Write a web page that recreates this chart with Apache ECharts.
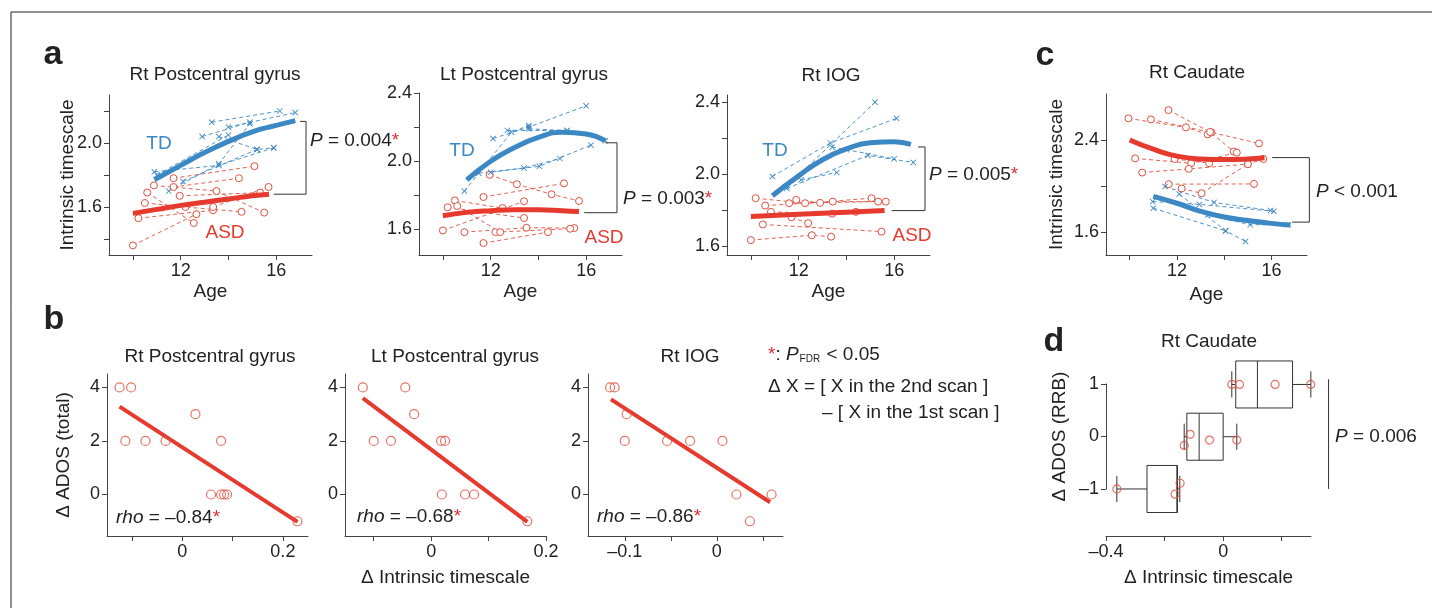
<!DOCTYPE html>
<html>
<head>
<meta charset="utf-8">
<title>Intrinsic timescale</title>
<script src="https://cdn.jsdelivr.net/npm/echarts@6.0.0/dist/echarts.min.js"></script>
<style>
  html, body { margin: 0; padding: 0; background: #fff; }
  #fig { width: 1432px; height: 608px; }
</style>
</head>
<body>
<div id="fig"></div>
<script>
// ---------- data ----------
// panel a / c : each subject = list of [age, intrinsic timescale]
const a1TD = [
  [[13.3, 2.13], [16.15, 2.2]],
  [[14.0, 2.1], [16.8, 2.19]],
  [[12.9, 2.04], [14.9, 2.13]],
  [[13.6, 2.04], [15.2, 1.96], [15.9, 1.97]],
  [[10.9, 1.82], [13.6, 1.86], [15.9, 1.97]],
  [[11.5, 1.7], [13.6, 1.87], [14.9, 2.12]],
  [[12.1, 1.76], [15.2, 1.96]],
  [[11.0, 1.8], [14.0, 2.05]]
];
const a1ASD = [
  [[10.0, 1.36], [12.66, 1.555]],
  [[10.23, 1.53], [13.36, 1.58]],
  [[10.5, 1.625], [12.2, 1.6], [14.55, 1.57]],
  [[10.6, 1.69], [12.55, 1.5]],
  [[10.88, 1.735], [13.5, 1.7], [15.5, 1.565]],
  [[11.7, 1.725], [14.44, 1.78]],
  [[11.7, 1.78], [15.09, 1.855]],
  [[11.96, 1.67], [15.33, 1.69]],
  [[13.36, 1.6], [15.68, 1.725]]
];
const a1TDfit = [[10.9, 1.77], [12, 1.86], [13, 1.94], [14, 2.01], [15, 2.07], [16, 2.11], [16.8, 2.14]];
const a1ASDfit = [[10, 1.56], [11, 1.585], [12, 1.61], [13, 1.63], [14, 1.65], [15, 1.67], [15.7, 1.68]];
const a1Bracket = [[17.0, 2.135], [17.25, 2.135], [17.25, 1.68], [15.9, 1.68]];

const a2TD = [
  [[10.9, 1.825], [12.87, 2.17], [13.6, 2.21]],
  [[12.1, 2.133], [13.6, 2.2], [16.0, 2.325]],
  [[13.6, 2.19], [15.2, 2.18]],
  [[11.5, 1.93], [14.04, 1.97], [16.2, 2.094]],
  [[12.0, 1.935], [13.4, 1.96], [14.9, 2.016]],
  [[12.7, 2.18], [15.2, 2.18], [16.8, 2.12]]
];
const a2ASD = [
  [[10.0, 1.594], [13.4, 1.765]],
  [[10.2, 1.73], [13.4, 1.667]],
  [[10.5, 1.77], [12.5, 1.725]],
  [[10.9, 1.584], [13.5, 1.61], [15.5, 1.608]],
  [[11.7, 1.79], [15.07, 1.87]],
  [[11.7, 1.52], [14.4, 1.584]],
  [[11.96, 1.92], [13.1, 1.865], [14.55, 1.806], [15.7, 1.767]],
  [[12.2, 1.584], [15.33, 1.604]],
  [[10.6, 1.737], [12.4, 1.584]]
];
const a2TDfit = [[11, 1.89], [12, 2.0], [13, 2.08], [14, 2.14], [15, 2.17], [16, 2.16], [16.8, 2.12]];
const a2ASDfit = [[10, 1.68], [11, 1.7], [12, 1.71], [13, 1.715], [14, 1.715], [15, 1.71], [15.7, 1.705]];
const a2Bracket = [[16.8, 2.108], [17.29, 2.108], [17.29, 1.698], [15.92, 1.698]];

const a3TD = [
  [[10.9, 1.987], [13.33, 2.173], [16.1, 2.31]],
  [[11.5, 1.93], [15.2, 2.4]],
  [[12.1, 1.968], [13.6, 2.009]],
  [[11.5, 1.92], [14.9, 2.104], [16.8, 2.065]],
  [[13.4, 2.15], [14.0, 2.136], [16.0, 2.085]]
];
const a3ASD = [
  [[10.2, 1.866], [12.27, 1.838], [15.05, 1.866]],
  [[10.6, 1.825], [13.43, 1.847], [15.65, 1.847]],
  [[10.84, 1.79], [13.4, 1.78], [14.4, 1.79]],
  [[10.5, 1.72], [15.47, 1.68]],
  [[10.0, 1.633], [12.55, 1.66], [13.36, 1.652]],
  [[11.6, 1.838], [15.33, 1.847]],
  [[11.7, 1.76], [12.4, 1.727]],
  [[11.9, 1.857], [12.9, 1.84]]
];
const a3TDfit = [[10.9, 1.88], [12, 1.99], [13, 2.08], [14, 2.14], [15, 2.175], [16, 2.18], [16.7, 2.165]];
const a3ASDfit = [[10, 1.764], [12, 1.776], [14, 1.788], [15.6, 1.797]];
const a3Bracket = [[17.0, 2.151], [17.29, 2.151], [17.29, 1.797], [15.89, 1.797]];

const cASD = [
  [[9.95, 2.588], [12.38, 2.51], [13.3, 2.449]],
  [[10.9, 2.579], [13.46, 2.466], [15.47, 2.37]],
  [[11.64, 2.66], [13.4, 2.47], [14.4, 2.3]],
  [[10.23, 2.24], [12.6, 2.198], [14.53, 2.29]],
  [[11.9, 2.235], [13.36, 2.198]],
  [[10.53, 2.117], [12.5, 2.149], [15.0, 2.19], [15.65, 2.235]],
  [[11.65, 2.016], [15.26, 2.018]],
  [[12.2, 1.978], [13.04, 1.937], [15.0, 2.19]]
];
const cTD = [
  [[11.5, 1.995], [13.57, 1.857], [15.96, 1.787]],
  [[12.1, 1.93], [14.06, 1.61], [14.9, 1.518]],
  [[10.97, 1.865], [12.95, 1.84], [16.1, 1.78]],
  [[11.0, 1.807], [14.06, 1.61]],
  [[13.3, 1.75], [15.1, 1.663], [16.7, 1.663]]
];
const cASDfit = [[10, 2.4], [11, 2.32], [12, 2.26], [13, 2.235], [14, 2.23], [15, 2.235], [15.7, 2.245]];
const cTDfit = [[11, 1.91], [12, 1.85], [13, 1.78], [14, 1.73], [15, 1.7], [16, 1.675], [16.8, 1.66]];
const cBracket = [[16.03, 2.247], [17.6, 2.247], [17.6, 1.686], [16.87, 1.686]];

// panel b : delta timescale (x) vs delta ADOS total (y)
const b1X = [-0.125, -0.102, -0.1135, -0.0735, -0.0335, 0.026, 0.077, 0.057, 0.077, 0.083, 0.089, 0.229];
const b1Y = [4, 4, 2, 2, 2, 3, 2, 0, 0, 0, 0, -1];
const b1Fit = [[-0.125, 3.28], [0.229, -1.02]];
const b2X = [-0.119, -0.045, -0.1, -0.07, -0.0296, 0.0174, 0.0243, 0.0186, 0.059, 0.0748, 0.1675];
const b2Y = [4, 4, 2, 2, 3, 2, 2, 0, 0, 0, -1];
const b2Fit = [[-0.119, 3.6], [0.1675, -1.02]];
const b3X = [-0.116, -0.111, -0.098, -0.1, -0.054, -0.029, 0.0062, 0.0214, 0.0596, 0.036];
const b3Y = [4, 4, 3, 2, 2, 2, 2, 0, 0, -1];
const b3Fit = [[-0.115, 3.55], [0.058, -0.29]];

// panel d : boxes [ADOS RRB change, min, q1, median, q3, max] and points
const dBoxes = [
  [1, 0.0296, 0.043, 0.117, 0.237, 0.2995],
  [0, -0.133, -0.124, -0.082, 0.0, 0.0466],
  [-1, -0.363, -0.26, -0.158, -0.156, -0.148]
];
const dPtsX = [0.0296, 0.0558, 0.1775, 0.299, -0.1126, -0.133, -0.0466, 0.0466, -0.363, -0.147, -0.164];
const dPtsY = [1, 1, 1, 1, 0.045, -0.166, -0.064, -0.064, -1, -0.89, -1.1];
const dPLine = [[0.36, 1.1], [0.36, -1]];

// ---------- styles ----------
const FONT = 'Liberation Sans, Arial, sans-serif';
const BLUE = '#3b88c4';
const RED = '#e53a2d';
const LRED = '#e0503f';
const AXIS = '#444';
const TXT = '#222';
const STAR = '#d6323a';
const xMark = 'path://M0,1L1,0L5,4L9,0L10,1L6,5L10,9L9,10L5,6L1,10L0,9L4,5Z';

const dash = s => String(s).replace('-', '\u2013');
const fix1 = v => v.toFixed(1);

function axis(gi, min, max, ticks, labels, fmt, name, gap) {
  return {
    type: 'value', gridIndex: gi, min: min, max: max,
    axisLine: { onZero: false, lineStyle: { color: AXIS, width: 1 } },
    axisTick: { length: 5, lineStyle: { color: AXIS }, customValues: ticks },
    axisLabel: { customValues: labels, formatter: fmt, color: TXT, fontSize: 18, fontFamily: FONT, margin: 7 },
    splitLine: { show: false },
    name: name || '', nameLocation: 'middle', nameGap: gap || 0,
    nameTextStyle: { fontSize: 19, color: TXT, fontFamily: FONT }
  };
}

const grids = [
  { left: 109, top: 95, width: 203, height: 160 },   // a1
  { left: 419, top: 93, width: 203, height: 162 },   // a2
  { left: 727, top: 95, width: 203, height: 160 },   // a3
  { left: 1106, top: 94, width: 201, height: 161 },  // c
  { left: 107, top: 374, width: 201, height: 162 },  // b1
  { left: 345, top: 374, width: 201, height: 162 },  // b2
  { left: 588, top: 374, width: 195, height: 162 },  // b3
  { left: 1106, top: 362, width: 205, height: 174 }, // d
  { left: 1106, top: 384, width: 205, height: 105 }  // d : y axis drawn only from -1 to 1
].map(g => Object.assign({ outerBoundsMode: 'none' }, g));

const ages = [10, 12, 14, 16];
const xAxes = [
  axis(0, 9, 17.5, ages, [12, 16], null, 'Age', 27),
  axis(1, 9, 17.5, ages, [12, 16], null, 'Age', 27),
  axis(2, 9, 17.5, ages, [12, 16], null, 'Age', 27),
  axis(3, 9, 17.5, ages, [12, 16], null, 'Age', 30),
  axis(4, -0.15, 0.25, [-0.1, 0, 0.1, 0.2], [0, 0.2], dash),
  axis(5, -0.15, 0.2, [-0.1, 0, 0.1, 0.2], [0, 0.2], dash, '\u0394 Intrinsic timescale', 32),
  axis(6, -0.14, 0.072, [-0.1, -0.05, 0, 0.05], [-0.1, 0], dash),
  axis(7, -0.4, 0.3, [-0.4, -0.2, 0, 0.2], [-0.4, 0], dash, '\u0394 Intrinsic timescale', 32),
  Object.assign(axis(8, -0.4, 0.3, [], []), { show: false })
];
const yAxes = [
  Object.assign(axis(0, 1.3, 2.3, [1.4, 1.6, 1.8, 2.0, 2.2], [1.6, 2.0], fix1, 'Intrinsic timescale', 32),
    { nameMoveOverlap: false }),
  axis(1, 1.45, 2.4, [1.6, 1.8, 2.0, 2.2, 2.4], [1.6, 2.0, 2.4], fix1),
  axis(2, 1.55, 2.44, [1.6, 1.8, 2.0, 2.2, 2.4], [1.6, 2.0, 2.4], fix1),
  axis(3, 1.4, 2.8, [1.6, 2.0, 2.4], [1.6, 2.4], fix1, 'Intrinsic timescale', 40),
  axis(4, -1.55, 4.5, [0, 2, 4], [0, 2, 4], dash, '\u0394 ADOS (total)', 34),
  axis(5, -1.55, 4.5, [0, 2, 4], [0, 2, 4], dash),
  axis(6, -1.55, 4.5, [0, 2, 4], [0, 2, 4], dash),
  Object.assign(axis(7, -1.9, 1.43, [], []), { show: false }),
  axis(8, -1, 1, [-1, 0, 1], [-1, 0, 1], dash, '\u0394 ADOS (RRB)', 37)
];

// ---------- series builders ----------
const series = [];

function trajectories(gi, subjects, isTD) {
  subjects.forEach(s => series.push({
    type: 'line', xAxisIndex: gi, yAxisIndex: gi, data: s, z: 2,
    symbol: isTD ? xMark : 'circle', symbolSize: isTD ? 6 : 7,
    itemStyle: isTD ? { color: BLUE } : { color: '#fff', borderColor: LRED, borderWidth: 1 },
    lineStyle: { color: isTD ? BLUE : LRED, width: 1, type: [4, 3], opacity: 0.9 }
  }));
}
function fit(gi, pts, color, w) {
  series.push({
    type: 'line', xAxisIndex: gi, yAxisIndex: gi, data: pts, smooth: true, z: 4,
    symbol: 'none', lineStyle: { color: color, width: w || 5 }
  });
}
// significance brackets, allowed to run past the end of the axis
function bracket(gi, pts) {
  series.push({
    type: 'custom', xAxisIndex: gi, yAxisIndex: gi, clip: false, z: 3, silent: true,
    data: [pts.flat()],
    renderItem: function (params, api) {
      const points = pts.map((p, k) => api.coord([api.value(2 * k), api.value(2 * k + 1)]));
      return { type: 'polyline', shape: { points: points }, style: { stroke: '#333', fill: 'none', lineWidth: 1 } };
    }
  });
}
function scatter(gi, xs, ys, size) {
  series.push({
    type: 'scatter', xAxisIndex: gi, yAxisIndex: gi, z: 5,
    data: xs.map((x, i) => [x, ys[i]]),
    symbol: 'circle', symbolSize: size,
    itemStyle: { color: 'rgba(255,255,255,0)', borderColor: LRED, borderWidth: 1.2 }
  });
}

// panel a and c
[[a1TD, a1ASD, a1TDfit, a1ASDfit, a1Bracket],
 [a2TD, a2ASD, a2TDfit, a2ASDfit, a2Bracket],
 [a3TD, a3ASD, a3TDfit, a3ASDfit, a3Bracket],
 [cTD, cASD, cTDfit, cASDfit, cBracket]].forEach((p, gi) => {
  trajectories(gi, p[1], false);
  trajectories(gi, p[0], true);
  fit(gi, p[2], BLUE);
  fit(gi, p[3], RED);
  bracket(gi, p[4]);
});

// panel b
fit(4, b1Fit, RED, 4);
scatter(4, b1X, b1Y, 9);
fit(5, b2Fit, RED, 4);
scatter(5, b2X, b2Y, 9);
fit(6, b3Fit, RED, 4);
scatter(6, b3X, b3Y, 9);

// panel d : horizontal box plots drawn through the axis scales
series.push({
  type: 'custom', xAxisIndex: 7, yAxisIndex: 7, data: dBoxes, z: 3, clip: false,
  renderItem: function (params, api) {
    const y = api.value(0), mn = api.value(1), q1 = api.value(2),
          md = api.value(3), q3 = api.value(4), mx = api.value(5);
    const h = 0.45, cap = 0.25;
    const st = { stroke: '#333', fill: 'none', lineWidth: 1 };
    const p = (x, yy) => api.coord([x, yy]);
    const seg = (a, b) => ({ type: 'line', shape: { x1: a[0], y1: a[1], x2: b[0], y2: b[1] }, style: st });
    const tl = p(q1, y + h), br = p(q3, y - h);
    return {
      type: 'group',
      children: [
        { type: 'rect', shape: { x: tl[0], y: tl[1], width: br[0] - tl[0], height: br[1] - tl[1] }, style: st },
        seg(p(md, y + h), p(md, y - h)),
        seg(p(mn, y), p(q1, y)),
        seg(p(q3, y), p(mx, y)),
        seg(p(mn, y + cap), p(mn, y - cap)),
        seg(p(mx, y + cap), p(mx, y - cap))
      ]
    };
  }
});
scatter(7, dPtsX, dPtsY, 8);
bracket(7, dPLine);

// ---------- text ----------
const rich = {
  i: { fontStyle: 'italic', fontSize: 19, fontFamily: FONT, fill: TXT },
  r: { fontSize: 19, fontFamily: FONT, fill: STAR },
  s: { fontSize: 10, fontFamily: FONT, fill: TXT, padding: [9, 1, 0, 1] }
};
function txt(x, y, text, o) {
  return {
    type: 'text', x: x, y: y, z: 100,
    style: Object.assign({ text: text, font: '19px ' + FONT, fill: TXT, align: 'left', verticalAlign: 'middle', rich: rich }, o || {})
  };
}
const mid = { align: 'center' };
const letter = { font: 'bold 34px ' + FONT, align: 'center' };
const tdStyle = { align: 'center', fill: BLUE };
const asdStyle = { align: 'center', fill: RED };

const texts = [
  // panel letters
  txt(53, 55, 'a', letter), txt(54, 320, 'b', letter), txt(1045, 56, 'c', letter), txt(1054, 342, 'd', letter),
  // titles
  txt(215, 75, 'Rt Postcentral gyrus', mid), txt(524, 75, 'Lt Postcentral gyrus', mid),
  txt(831, 76, 'Rt IOG', mid), txt(1197, 73, 'Rt Caudate', mid),
  txt(210, 357, 'Rt Postcentral gyrus', mid), txt(455, 357, 'Lt Postcentral gyrus', mid),
  txt(690, 357, 'Rt IOG', mid), txt(1209, 342, 'Rt Caudate', mid),
  // group labels
  txt(159, 144, 'TD', tdStyle), txt(225, 233, 'ASD', asdStyle),
  txt(462, 151, 'TD', tdStyle), txt(604, 238, 'ASD', asdStyle),
  txt(775, 151, 'TD', tdStyle), txt(912, 236, 'ASD', asdStyle),
  // statistics
  txt(310, 141, '{i|P} = 0.004{r|*}'),
  txt(623, 199, '{i|P} = 0.003{r|*}'),
  txt(929, 175, '{i|P} = 0.005{r|*}'),
  txt(1316, 192, '{i|P} < 0.001'),
  txt(1335, 437, '{i|P} = 0.006'),
  txt(116, 518, '{i|rho} = \u20130.84{r|*}'),
  txt(357, 517, '{i|rho} = \u20130.68{r|*}'),
  txt(597, 517, '{i|rho} = \u20130.86{r|*}'),
  // legend notes
  txt(768, 355, '{r|*}: {i|P}{s|FDR} < 0.05'),
  txt(768, 387, '\u0394 X = [ X in the 2nd scan ]'),
  txt(822, 413, '\u2013 [ X in the 1st scan ]'),
  // frame
  { type: 'rect', z: 100, shape: { x: 11, y: 12, width: 1500, height: 700 }, style: { fill: 'none', stroke: '#222', lineWidth: 1 } }
];

const chart = echarts.init(document.getElementById('fig'));
chart.setOption({
  animation: false,
  backgroundColor: '#fff',
  textStyle: { fontFamily: FONT },
  grid: grids,
  xAxis: xAxes,
  yAxis: yAxes,
  series: series,
  graphic: { elements: texts }
});
</script>
</body>
</html>
